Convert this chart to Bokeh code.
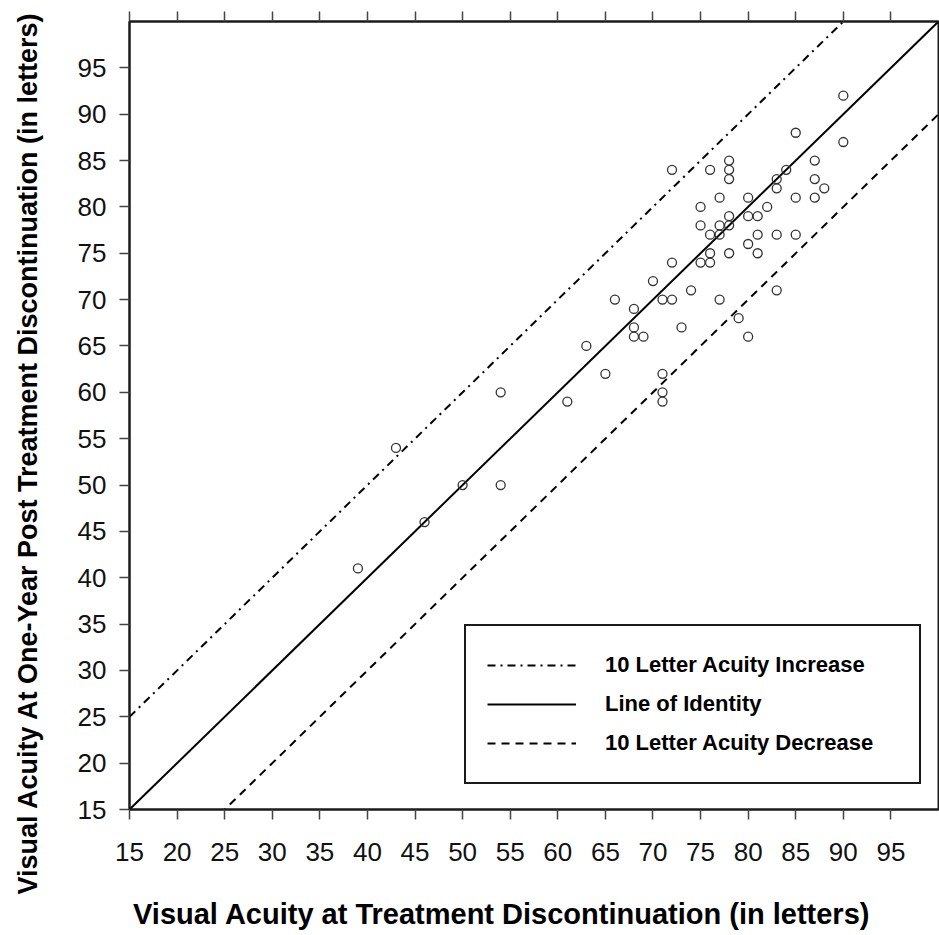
import math
from bokeh.plotting import figure
from bokeh.models import Range1d, LinearAxis, FixedTicker, Legend, LegendItem
from bokeh.embed import file_html
from bokeh.resources import INLINE

# ---- data ----
baseline_va = [90, 85, 90, 78, 72, 76, 78, 78, 87, 84, 83, 87, 83, 88, 77, 80, 85, 87,
               75, 82, 78, 80, 81, 75, 77, 78, 76, 77, 81, 83, 85, 80, 76, 78, 81, 72,
               75, 76, 70, 74, 83, 66, 71, 72, 77, 68, 79, 68, 73, 68, 69, 80, 63, 65,
               71, 54, 71, 61, 71, 43, 39, 46, 50, 54]
followup_va = [92, 88, 87, 85, 84, 84, 84, 83, 85, 84, 83, 83, 82, 82, 81, 81, 81, 81,
               80, 80, 79, 79, 79, 78, 78, 78, 77, 77, 77, 77, 77, 76, 75, 75, 75, 74,
               74, 74, 72, 71, 71, 70, 70, 70, 70, 69, 68, 67, 67, 66, 66, 66, 65, 62,
               62, 60, 60, 59, 59, 54, 41, 46, 50, 50]

axis_min, axis_max = 15, 100
tick_values = list(range(15, 100, 5))
line_x = [axis_min, axis_max]
ref_offsets = [10, 0, -10]
ref_names = ["10 Letter Acuity Increase", "Line of Identity", "10 Letter Acuity Decrease"]
ref_dashes = ["8 5 2 5", "solid", "8 6"]

x_title = "Visual Acuity at Treatment Discontinuation (in letters)"
y_title = "Visual Acuity At One-Year Post Treatment Discontinuation (in letters)"

FONT = "Liberation Sans"
INK = "#1a1a1a"
NBSP = "\u00a0"

p = figure(frame_width=809, frame_height=788,
           min_border_left=129, min_border_right=1,
           min_border_top=21, min_border_bottom=126,
           x_range=Range1d(axis_min, axis_max), y_range=Range1d(axis_min, axis_max),
           output_backend="svg", toolbar_location=None)

p.grid.visible = False
p.outline_line_color = INK
p.outline_line_width = 2
p.outline_line_alpha = 1.0
p.background_fill_color = "white"
p.border_fill_color = "white"

for ax in (p.xaxis[0], p.yaxis[0]):
    ax.ticker = FixedTicker(ticks=tick_values)
    ax.major_tick_out = 10
    ax.major_tick_in = 0
    ax.minor_tick_out = 0
    ax.minor_tick_in = 0
    ax.axis_line_color = INK
    ax.axis_line_width = 2
    ax.major_tick_line_color = "#444444"
    ax.major_tick_line_width = 1.5
    ax.major_label_text_font = FONT
    ax.major_label_text_font_size = "26px"
    ax.major_label_text_color = "#111111"
    ax.axis_label_text_font = FONT
    ax.axis_label_text_font_style = "bold"
    ax.axis_label_text_color = "black"
p.xaxis[0].major_label_standoff = 23
p.yaxis[0].major_label_standoff = 13

# axis titles: trailing no-break spaces shift the centred titles as in the reference
xax = p.xaxis[0]
yax = p.yaxis[0]
xax.axis_label = x_title + NBSP * 8
xax.axis_label_text_font_size = "29px"
xax.axis_label_standoff = 34
yax.axis_label = y_title + NBSP * 10
yax.axis_label_text_font_size = "27px"
yax.axis_label_standoff = 32

top_axis = LinearAxis(ticker=FixedTicker(ticks=tick_values),
                      major_tick_out=10, major_tick_in=0,
                      minor_tick_out=0, minor_tick_in=0,
                      major_label_overrides={t: "" for t in tick_values},
                      major_label_standoff=0,
                      axis_line_color=INK, axis_line_width=2,
                      major_tick_line_color="#444444", major_tick_line_width=1.5)
p.add_layout(top_axis, "above")

# reference lines
renderers = []
for off, dash in zip(ref_offsets, ref_dashes):
    r = p.line(x=line_x, y=[v + off for v in line_x], line_color="black",
               line_width=2, line_dash=dash)
    renderers.append(r)

# points
p.scatter(x=baseline_va, y=followup_va, marker="circle", size=9,
          fill_color=None, line_color="#333333", line_width=1.3)

legend = Legend(items=[LegendItem(label=n, renderers=[r]) for n, r in zip(ref_names, renderers)],
                location=(335, 25), margin=0, padding=21, spacing=3,
                glyph_width=89, glyph_height=36, label_height=36, label_width=293,
                label_standoff=29,
                label_text_font=FONT, label_text_font_style="bold",
                label_text_font_size="22px", label_text_color="black",
                border_line_color=INK, border_line_width=2, border_line_alpha=1.0,
                background_fill_color="white", background_fill_alpha=1.0)
p.add_layout(legend)

open("out.html", "w").write(file_html(p, INLINE))
